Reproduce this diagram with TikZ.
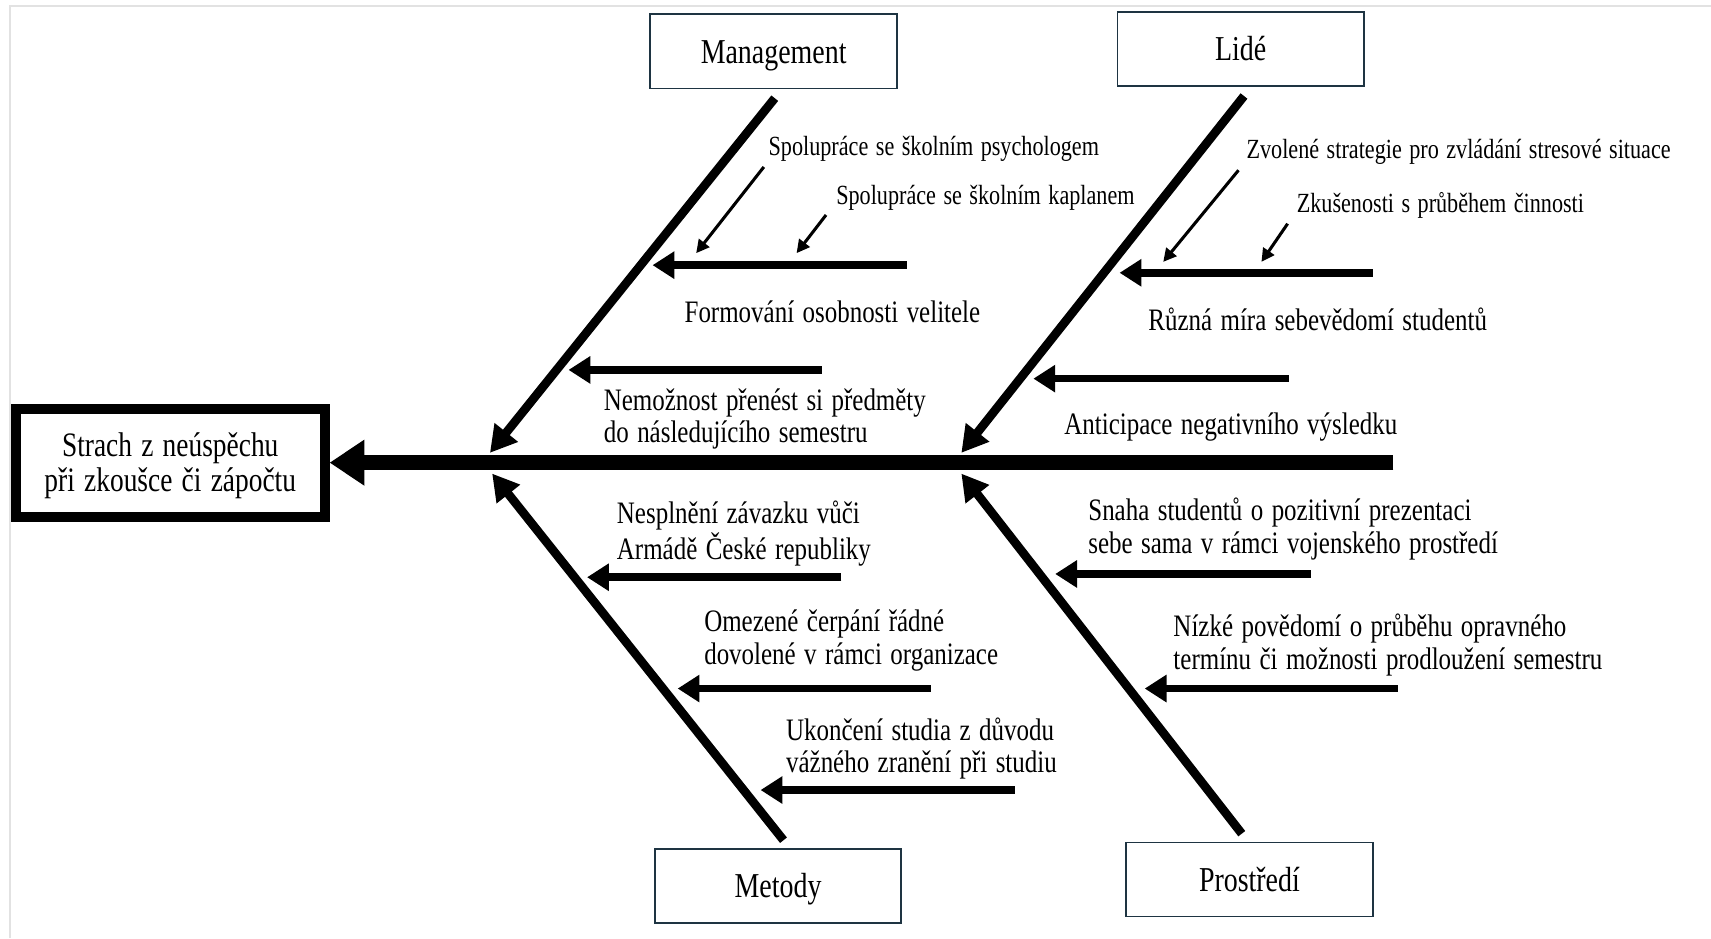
\documentclass[tikz,border=0pt]{standalone}
\usepackage{fontspec}
\setmainfont{Liberation Serif}[FakeStretch=0.8,WordSpace=1.35]
\usetikzlibrary{arrows.meta}
\definecolor{boxline}{RGB}{30,52,66}
\definecolor{framegray}{RGB}{226,226,226}
\begin{document}
\begin{tikzpicture}[x=0.5pt,y=-0.5pt,
  category/.style={draw=boxline,line width=0.8pt,fill=white,minimum width=113pt,minimum height=34pt,inner sep=0,text height=12pt,text depth=1.2pt,font=\fontsize{16}{18}\selectfont},
  effectbox/.style={draw=black,line width=4.5pt,minimum width=141.5pt,minimum height=49.5pt,inner sep=0},
  effecttext/.style={align=center,inner sep=0,font=\fontsize{15.7}{16.2}\selectfont},
  spine/.style={line width=7pt,-{Triangle[length=16pt,width=20pt]}},
  bone/.style={line width=4pt,-{Triangle[length=12pt,width=13pt]}},
  cause/.style={line width=3.5pt,-{Triangle[length=10pt,width=12pt]}},
  subcause/.style={line width=1.4pt,-{Triangle[length=6pt,width=6pt]}},
  lbl/.style={anchor=west,align=left,inner sep=0,yshift=-1.5pt,font=\fontsize{14.3}{15}\selectfont},
  smalllbl/.style={anchor=west,align=left,inner sep=0,yshift=-1.5pt,font=\fontsize{12.7}{13}\selectfont}]
\useasboundingbox (0,0) rectangle (1568,860);
% faint page frame
\draw[framegray,line width=0.8pt] (9,860) -- (9,5.5) -- (1568,5.5);

% effect and category boxes
\node[effectbox] (effect) at (156,424) {};
\node[effecttext] (effectlbl) at (156,427) {Strach z neúspěchu\\při zkoušce či zápočtu};
\node[category] (man) at (709,47) {Management};
\node[category] (lid) at (1137,45) {Lidé};
\node[category] (met) at (713,812) {Metody};
\node[category] (pro) at (1145,806) {Prostředí};

% spine
\coordinate (tail) at (1277,424);
\draw[spine] (tail) -- (effect.east);

% main bones
\coordinate (manA) at (710,90);   \coordinate (manB) at (449,415);
\coordinate (lidA) at (1140,88);  \coordinate (lidB) at (881,415);
\coordinate (metA) at (718,770);  \coordinate (metB) at (451,434);
\coordinate (proA) at (1138,764); \coordinate (proB) at (881,434);
\draw[bone] (manA) -- (manB);
\draw[bone] (lidA) -- (lidB);
\draw[bone] (metA) -- (metB);
\draw[bone] (proA) -- (proB);

% Management causes
\coordinate (m1a) at (831,243); \coordinate (m1b) at (598,243);
\coordinate (m2a) at (753,339); \coordinate (m2b) at (521,339);
\draw[cause] (m1a) -- (m1b);
\draw[cause] (m2a) -- (m2b);
\coordinate (ms1a) at (700,153); \coordinate (ms1b) at (638,232);
\coordinate (ms2a) at (757,197); \coordinate (ms2b) at (730,232);
\draw[subcause] (ms1a) -- (ms1b);
\draw[subcause] (ms2a) -- (ms2b);
\node[smalllbl] (tms1) at (704,133) {Spolupráce se školním psychologem};
\node[smalllbl] (tms2) at (766,178) {Spolupráce se školním kaplanem};
\node[lbl] (tm1) at (627,283) {Formování osobnosti velitele};
\node[lbl] (tm2) at (553,381) {Nemožnost přenést si předměty\\do následujícího semestru};

% Lidé causes
\coordinate (l1a) at (1258,250); \coordinate (l1b) at (1026,250);
\coordinate (l2a) at (1181,347); \coordinate (l2b) at (947,347);
\draw[cause] (l1a) -- (l1b);
\draw[cause] (l2a) -- (l2b);
\coordinate (ls1a) at (1135,156); \coordinate (ls1b) at (1066,240);
\coordinate (ls2a) at (1180,205); \coordinate (ls2b) at (1156,240);
\draw[subcause] (ls1a) -- (ls1b);
\draw[subcause] (ls2a) -- (ls2b);
\node[smalllbl] (tls1) at (1142,136) {Zvolené strategie pro zvládání stresové situace};
\node[smalllbl] (tls2) at (1188,185) {Zkušenosti s průběhem činnosti};
\node[lbl] (tl1) at (1052,290) {Různá míra sebevědomí studentů};
\node[lbl] (tl2) at (975,388) {Anticipace negativního výsledku};

% Metody causes
\coordinate (e1a) at (771,529); \coordinate (e1b) at (538,529);
\coordinate (e2a) at (853,631); \coordinate (e2b) at (621,631);
\coordinate (e3a) at (930,724); \coordinate (e3b) at (697,724);
\draw[cause] (e1a) -- (e1b);
\draw[cause] (e2a) -- (e2b);
\draw[cause] (e3a) -- (e3b);
\node[lbl] (te1) at (565,486) {Nesplnění závazku vůči\\Armádě České republiky};
\node[lbl] (te2) at (645,584) {Omezené čerpání řádné\\dovolené v rámci organizace};
\node[lbl] (te3) at (720,683) {Ukončení studia z důvodu\\vážného zranění při studiu};

% Prostředí causes
\coordinate (p1a) at (1201,526); \coordinate (p1b) at (967,526);
\coordinate (p2a) at (1281,631); \coordinate (p2b) at (1049,631);
\draw[cause] (p1a) -- (p1b);
\draw[cause] (p2a) -- (p2b);
\node[lbl] (tp1) at (997,482) {Snaha studentů o pozitivní prezentaci\\sebe sama v rámci vojenského prostředí};
\node[lbl] (tp2) at (1075,588) {Nízké povědomí o průběhu opravného\\termínu či možnosti prodloužení semestru};
\end{tikzpicture}
\end{document}
